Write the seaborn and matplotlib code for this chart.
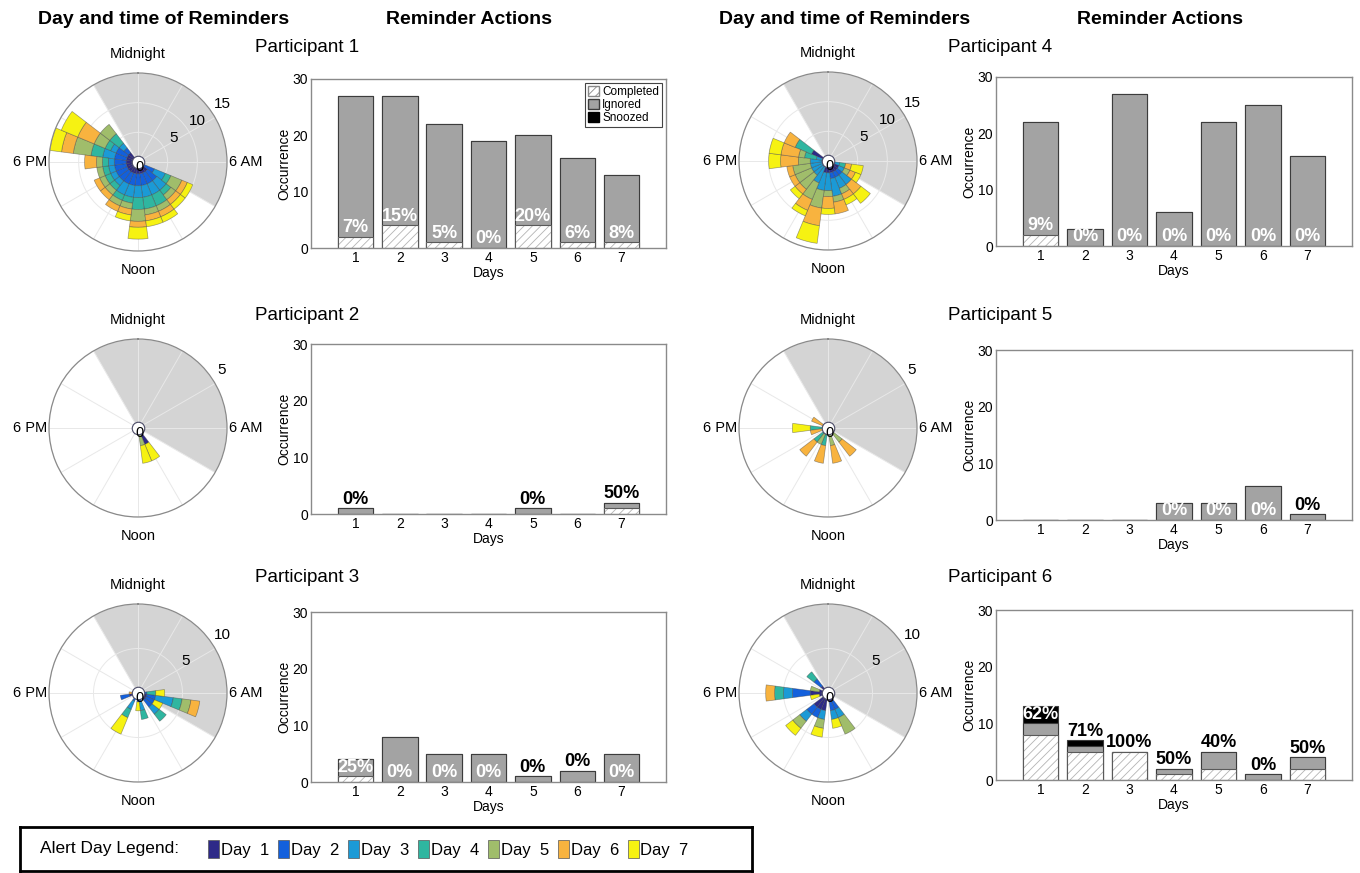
import numpy as np
import pandas as pd
import matplotlib
matplotlib.use('Agg')
import matplotlib.pyplot as plt
import matplotlib.transforms as mtransforms
from matplotlib.patches import Patch
import seaborn as sns

# Datos: dias y colores por dia
day_labels = ['1', '2', '3', '4', '5', '6', '7']
day_names = ['Day  1', 'Day  2', 'Day  3', 'Day  4', 'Day  5', 'Day  6', 'Day  7']
day_colors = ['#2e2a88', '#1360dc', '#1b9ad6', '#2fb6a0', '#a0bd6b', '#f8b33f', '#f6f212']

# ventana de sueno (sombreado gris), en horas
sleep_start = 22
sleep_end = 8

# Acciones de recordatorio por participante (por dia)
p1_completed = [2, 4, 1, 0, 4, 1, 1]
p1_ignored = [25, 23, 21, 19, 16, 15, 12]
p1_snoozed = [0, 0, 0, 0, 0, 0, 0]

p2_completed = [0, 0, 0, 0, 0, 0, 1]
p2_ignored = [1, 0, 0, 0, 1, 0, 1]
p2_snoozed = [0, 0, 0, 0, 0, 0, 0]

p3_completed = [1, 0, 0, 0, 0, 0, 0]
p3_ignored = [3, 8, 5, 5, 1, 2, 5]
p3_snoozed = [0, 0, 0, 0, 0, 0, 0]

p4_completed = [2, 0, 0, 0, 0, 0, 0]
p4_ignored = [20, 3, 27, 6, 22, 25, 16]
p4_snoozed = [0, 0, 0, 0, 0, 0, 0]

p5_completed = [0, 0, 0, 0, 0, 0, 0]
p5_ignored = [0, 0, 0, 3, 3, 6, 1]
p5_snoozed = [0, 0, 0, 0, 0, 0, 0]

p6_completed = [8, 5, 5, 1, 2, 0, 2]
p6_ignored = [2, 1, 0, 1, 3, 1, 2]
p6_snoozed = [3, 1, 0, 0, 0, 0, 0]

# Recordatorios por hora del dia (una lista por dia, alineada con las horas)
p1_hours = [8, 9, 10, 11, 12, 13, 14, 15, 16, 17, 18, 19, 20, 21]
p1_rose = [
    [1, 2, 2, 2, 2, 2, 2, 2, 2, 2, 2, 2, 2, 2],
    [2, 2, 2, 2, 2, 2, 2, 2, 2, 2, 2, 2, 2, 1],
    [2, 2, 2, 2, 2, 2, 2, 1, 1, 1, 1, 2, 1, 1],
    [1, 1, 2, 2, 2, 1, 1, 1, 1, 1, 1, 2, 1, 2],
    [2, 1, 1, 1, 2, 1, 1, 1, 1, 1, 1, 3, 2, 2],
    [1, 1, 1, 1, 1, 1, 1, 1, 1, 0, 2, 2, 3, 0],
    [1, 1, 1, 1, 2, 1, 0, 0, 0, 0, 0, 2, 3, 0],
]

p2_hours = [10, 11]
p2_rose = [
    [1, 0],
    [0, 0],
    [0, 0],
    [0, 0],
    [0, 1],
    [0, 0],
    [1, 1],
]

p3_hours = [6, 7, 8, 9, 11, 12, 14, 17, 18]
p3_rose = [
    [0, 1, 1, 1, 0, 0, 0, 1, 0],
    [1, 1, 1, 1, 1, 1, 1, 1, 0],
    [0, 2, 0, 1, 1, 0, 1, 0, 0],
    [1, 1, 0, 1, 1, 0, 1, 0, 0],
    [0, 1, 0, 0, 0, 0, 0, 0, 0],
    [0, 1, 0, 0, 0, 0, 0, 0, 1],
    [1, 0, 1, 0, 0, 1, 2, 0, 0],
]

p4_hours = [7, 8, 9, 10, 11, 12, 13, 14, 15, 16, 17, 18, 19, 20]
p4_rose = [
    [1, 2, 2, 2, 2, 2, 2, 1, 1, 1, 1, 1, 1, 3],
    [0, 0, 1, 1, 1, 0, 0, 0, 0, 0, 0, 0, 0, 0],
    [1, 1, 2, 2, 3, 3, 3, 3, 2, 2, 2, 2, 1, 0],
    [1, 0, 0, 0, 0, 0, 0, 0, 0, 0, 0, 0, 2, 3],
    [0, 1, 0, 1, 1, 1, 3, 3, 3, 3, 3, 2, 1, 0],
    [1, 1, 2, 1, 2, 2, 3, 2, 1, 1, 1, 3, 3, 2],
    [2, 1, 2, 1, 0, 1, 3, 1, 1, 0, 0, 2, 2, 0],
]

p5_hours = [9, 11, 13, 14, 15, 17, 18, 20]
p5_rose = [
    [0, 0, 0, 0, 0, 0, 0, 0],
    [0, 0, 0, 0, 0, 0, 0, 0],
    [0, 0, 0, 0, 0, 0, 0, 0],
    [0, 0, 1, 0, 1, 0, 1, 0],
    [1, 1, 0, 1, 0, 0, 0, 0],
    [1, 1, 1, 0, 1, 1, 0, 1],
    [0, 0, 0, 0, 0, 0, 1, 0],
]

p6_hours = [10, 11, 13, 14, 15, 17, 18, 19, 21]
p6_rose = [
    [1, 1, 2, 2, 2, 1, 2, 1, 1],
    [1, 1, 0, 1, 1, 0, 2, 0, 1],
    [1, 1, 1, 0, 1, 0, 1, 0, 0],
    [0, 0, 0, 0, 0, 0, 1, 0, 1],
    [2, 0, 1, 0, 1, 0, 0, 1, 0],
    [0, 0, 0, 0, 0, 0, 1, 0, 0],
    [0, 1, 1, 0, 1, 1, 0, 0, 0],
]

sns.set_style('white')
plt.rcParams['font.family'] = ['Liberation Sans', 'DejaVu Sans']
plt.rcParams['text.color'] = 'black'
plt.rcParams['axes.labelcolor'] = 'black'
plt.rcParams['xtick.color'] = 'black'
plt.rcParams['ytick.color'] = 'black'
plt.rcParams['hatch.color'] = '#b4b4b4'
plt.rcParams['hatch.linewidth'] = 0.6

W, H = 1360, 873
fig = plt.figure(figsize=(W / 100, H / 100), dpi=100)


def px_axes(left, top, width, height, **kw):
    return fig.add_axes([left / W, 1 - (top + height) / H, width / W, height / H], **kw)


def px_text(x, y, s, **kw):
    fig.text(x / W, 1 - y / H, s, **kw)


def draw_rose(ax, hours, rose, rmax, rticks):
    theta = np.deg2rad(np.asarray(hours) * 15.0)
    ax.set_theta_zero_location('N')
    ax.set_theta_direction(-1)
    # horario de sueno
    ax.bar(np.deg2rad(sleep_start * 15.0), rmax,
           width=np.deg2rad(((sleep_end - sleep_start) % 24) * 15.0),
           align='edge', color='#d4d4d4', linewidth=0, zorder=0.3)
    bottom = np.zeros(len(hours))
    for d, counts in enumerate(rose):
        counts = np.asarray(counts, dtype=float)
        m = counts > 0
        if m.any():
            ax.bar(theta[m], counts[m], width=np.deg2rad(15), bottom=bottom[m],
                   color=day_colors[d], edgecolor=(0.25, 0.25, 0.25, 0.5),
                   linewidth=0.5, zorder=2)
        bottom += counts
    ax.set_ylim(0, rmax)
    ax.set_yticks(rticks)
    ax.set_yticklabels([])
    ax.set_xticks(np.deg2rad(np.arange(0, 360, 30)))
    xl = ['' for _ in range(12)]
    xl[0], xl[3], xl[6], xl[9] = 'Midnight', '6 AM', 'Noon', '6 PM'
    ax.set_xticklabels(xl, fontsize=10.5)
    ax.tick_params(axis='x', pad=3)
    ax.grid(True, color='#e8e8e8', linewidth=0.7)
    ax.spines['polar'].set_edgecolor('#8a8a8a')
    ax.spines['polar'].set_linewidth(0.9)
    off = mtransforms.ScaledTranslation(8 / 72, 5 / 72, fig.dpi_scale_trans)
    for v in rticks:
        ax.text(np.deg2rad(55), v, str(v), transform=ax.transData + off,
                ha='center', va='center', fontsize=11, zorder=6)
    ax.plot([0], [0], 'o', ms=9, mfc='white', mec='#4a4a66', mew=0.8, zorder=5, clip_on=False)
    off0 = mtransforms.ScaledTranslation(1 / 72, -3.5 / 72, fig.dpi_scale_trans)
    ax.text(0, 0, '0', transform=ax.transData + off0, ha='center', va='center',
            fontsize=10.5, zorder=6)


def draw_bars(ax, completed, ignored, snoozed, legend=False):
    completed = np.asarray(completed)
    ignored = np.asarray(ignored)
    snoozed = np.asarray(snoozed)
    total = completed + ignored + snoozed
    df = pd.DataFrame({'Day': day_labels, 'total': total,
                       'ci': completed + ignored, 'completed': completed})
    sns.barplot(data=df, x='Day', y='total', color='black', saturation=1,
                errorbar=None, edgecolor='#3c3c3c', linewidth=0.8, ax=ax)
    sns.barplot(data=df, x='Day', y='ci', color='#a3a3a3', saturation=1,
                errorbar=None, edgecolor='#3c3c3c', linewidth=0.8, ax=ax)
    sns.barplot(data=df, x='Day', y='completed', color='white', saturation=1,
                errorbar=None, edgecolor='#b4b4b4', hatch='////', linewidth=0, ax=ax)
    sns.barplot(data=df, x='Day', y='completed', fill=False, color='#5a5a5a',
                saturation=1, errorbar=None, linewidth=0.8, ax=ax)
    for i in range(len(total)):
        if total[i] == 0:
            continue
        pct = round(100 * completed[i] / total[i])
        if snoozed[i] >= 3:
            y, col = completed[i] + ignored[i], 'white'
        elif ignored[i] >= 3 and completed[i] / total[i] < 0.4:
            y, col = completed[i], 'white'
        else:
            y, col = total[i], 'black'
        ax.text(i, y + 0.1, f'{pct}%', ha='center', va='bottom', color=col,
                fontsize=13, fontweight='bold')
    ax.set_xlim(-1, 7)
    ax.set_ylim(0, 30)
    ax.set_yticks([0, 10, 20, 30])
    ax.tick_params(labelsize=10, length=0, pad=2)
    ax.set_xlabel('Days', fontsize=10, labelpad=1)
    ax.set_ylabel('Occurrence', fontsize=10, labelpad=1)
    for s in ax.spines.values():
        s.set_visible(True)
        s.set_edgecolor('#8a8a8a')
        s.set_linewidth(1.0)
    if legend:
        handles = [Patch(facecolor='white', edgecolor='#888888', hatch='////'),
                   Patch(facecolor='#a3a3a3', edgecolor='#3c3c3c'),
                   Patch(facecolor='black', edgecolor='black')]
        leg = ax.legend(handles, ['Completed', 'Ignored', 'Snoozed'], loc='upper right',
                        fontsize=8.5, fancybox=False, edgecolor='#444444', framealpha=1,
                        borderpad=0.25, labelspacing=0.1, handlelength=0.9,
                        handleheight=0.9, handletextpad=0.3, borderaxespad=0.35)
        leg.get_frame().set_linewidth(0.8)


participants = [
    ('Participant 1', p1_hours, p1_rose, 15, [5, 10, 15], p1_completed, p1_ignored, p1_snoozed),
    ('Participant 2', p2_hours, p2_rose, 5, [5], p2_completed, p2_ignored, p2_snoozed),
    ('Participant 3', p3_hours, p3_rose, 10, [5, 10], p3_completed, p3_ignored, p3_snoozed),
    ('Participant 4', p4_hours, p4_rose, 15, [5, 10, 15], p4_completed, p4_ignored, p4_snoozed),
    ('Participant 5', p5_hours, p5_rose, 5, [5], p5_completed, p5_ignored, p5_snoozed),
    ('Participant 6', p6_hours, p6_rose, 10, [5, 10], p6_completed, p6_ignored, p6_snoozed),
]

# posiciones en pixeles (centro del polar, caja de barras, titulo)
rose_centers = [(138, 162), (138, 428), (138, 693), (828, 161), (828, 428), (828, 693)]
bar_boxes = [(311, 79, 355, 169), (311, 344, 355, 170), (311, 612, 355, 170),
             (996, 77, 356, 169), (996, 350, 356, 170), (996, 610, 356, 170)]
title_pos = [(255, 48), (255, 315), (255, 578), (948, 48), (948, 315), (948, 578)]
R = 89

for k, (name, hours, rose, rmax, rticks, comp, ign, snz) in enumerate(participants):
    cx, cy = rose_centers[k]
    axp = px_axes(cx - R, cy - R, 2 * R, 2 * R, projection='polar')
    draw_rose(axp, hours, rose, rmax, rticks)
    bx, by, bw, bh = bar_boxes[k]
    axb = px_axes(bx, by, bw, bh)
    draw_bars(axb, comp, ign, snz, legend=(k == 0))
    tx, ty = title_pos[k]
    px_text(tx, ty, name, fontsize=13.5, ha='left', va='center')

# encabezados
for x, s in [(164, 'Day and time of Reminders'), (469, 'Reminder Actions'),
             (845, 'Day and time of Reminders'), (1160, 'Reminder Actions')]:
    px_text(x, 20, s, fontsize=14, fontweight='bold', ha='center', va='center')

# leyenda de dias
axl = px_axes(20, 827, 732, 44)
axl.set_xticks([])
axl.set_yticks([])
for s in axl.spines.values():
    s.set_visible(True)
    s.set_edgecolor('black')
    s.set_linewidth(2)
axl.text(20 / 732, 0.5, 'Alert Day Legend:', transform=axl.transAxes,
         fontsize=12.5, ha='left', va='center')
day_handles = [Patch(facecolor=c, edgecolor='#555555', linewidth=0.5) for c in day_colors]
axl.legend(day_handles, day_names, ncol=7, loc='center left',
           bbox_to_anchor=(180 / 732, 0.5), frameon=False, fontsize=12,
           borderpad=0, handlelength=0.65, handleheight=1.3, handletextpad=0.1,
           columnspacing=0.55)

plt.savefig('out.png', dpi=100)
